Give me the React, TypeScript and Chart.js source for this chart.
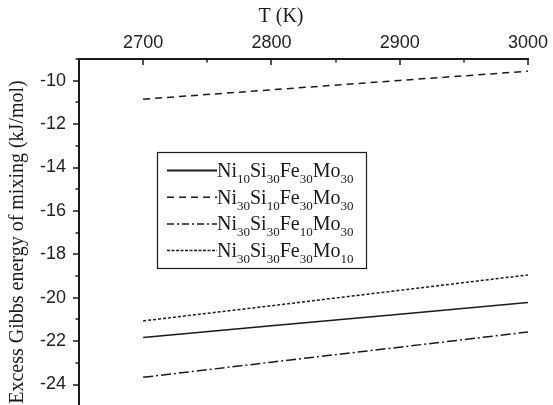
import React, { useEffect, useRef } from 'react';
import { Chart, registerables } from 'chart.js';

Chart.register(...registerables);

// ---- data ----
const temps = [2700, 2800, 2900, 3000];
const seriesLabels = [
  'Ni10Si30Fe30Mo30',
  'Ni30Si10Fe30Mo30',
  'Ni30Si30Fe10Mo30',
  'Ni30Si30Fe30Mo10',
];
const ni10Values = [-21.83, -21.29, -20.76, -20.22];
const si10Values = [-10.85, -10.42, -9.99, -9.56];
const fe10Values = [-23.67, -22.97, -22.28, -21.58];
const mo10Values = [-21.07, -20.37, -19.66, -18.95];
const xTickValues = [2700, 2800, 2900, 3000];
const xMinorTickValues = [2650, 2750, 2850, 2950];
const yTickValues = [-24, -22, -20, -18, -16, -14, -12, -10];
const yMinorTickValues = [-25, -23, -21, -19, -17, -15, -13, -11, -9];
const xTitle = 'T (K)';
const yTitle = 'Excess Gibbs energy of mixing (kJ/mol)';

const seriesValues = [ni10Values, si10Values, fe10Values, mo10Values];
const dashes = [[], [7, 5], [10, 3, 2, 3], [3, 2]];
const legendDashes = [[], [7, 5], [7, 3, 2, 3], [3, 1.5]];

const SERIF = '"Liberation Serif", "Times New Roman", serif';
const SANS = '"Liberation Sans", Arial, sans-serif';
const INK = '#1a1a1a';

function drawFormula(ctx: CanvasRenderingContext2D, text: string, x: number, y: number) {
  const re = /([A-Z][a-z]?)(\d+)/g;
  let m: RegExpExecArray | null;
  let cx = x;
  ctx.textAlign = 'left';
  ctx.textBaseline = 'alphabetic';
  while ((m = re.exec(text))) {
    ctx.font = `20px ${SERIF}`;
    ctx.fillText(m[1], cx, y);
    cx += ctx.measureText(m[1]).width;
    ctx.font = `13px ${SERIF}`;
    ctx.fillText(m[2], cx, y + 6);
    cx += ctx.measureText(m[2]).width;
  }
}

const decorPlugin = {
  id: 'decor',
  afterDraw(chart: any) {
    const ctx: CanvasRenderingContext2D = chart.ctx;
    const { left, right, top, bottom } = chart.chartArea;
    const xs = chart.scales.x;
    const ys = chart.scales.y;
    ctx.save();
    ctx.strokeStyle = INK;
    ctx.fillStyle = INK;
    ctx.setLineDash([]);
    // axis lines
    ctx.lineWidth = 2;
    ctx.beginPath();
    ctx.moveTo(left, bottom);
    ctx.lineTo(left, top);
    ctx.lineTo(right + 1, top);
    ctx.stroke();
    // ticks
    ctx.lineWidth = 1.5;
    ctx.beginPath();
    xTickValues.forEach((v) => {
      const px = Math.round(xs.getPixelForValue(v));
      ctx.moveTo(px, top);
      ctx.lineTo(px, top + 6);
    });
    xMinorTickValues.forEach((v) => {
      const px = Math.round(xs.getPixelForValue(v));
      ctx.moveTo(px, top);
      ctx.lineTo(px, top + 3.5);
    });
    yTickValues.forEach((v) => {
      const py = Math.round(ys.getPixelForValue(v));
      ctx.moveTo(left, py);
      ctx.lineTo(left - 6, py);
    });
    yMinorTickValues.forEach((v) => {
      const py = Math.round(ys.getPixelForValue(v));
      ctx.moveTo(left, py);
      ctx.lineTo(left - 3.5, py);
    });
    ctx.stroke();

    // titles
    ctx.font = `20px ${SERIF}`;
    ctx.textAlign = 'center';
    ctx.textBaseline = 'middle';
    ctx.fillText(xTitle, 281, 17);
    ctx.save();
    ctx.translate(18, 242);
    ctx.rotate(-Math.PI / 2);
    ctx.fillText(yTitle, 0, 0);
    ctx.restore();

    // legend
    const bx = 157.5, by = 152.5, bw = 209, bh = 116;
    ctx.lineWidth = 1.2;
    ctx.strokeRect(bx, by, bw, bh);
    chart.data.datasets.forEach((ds: any, i: number) => {
      const base = 177 + i * 26.7;
      const ly = base - 6.5;
      ctx.save();
      ctx.lineWidth = i === 0 ? 2 : 1.5;
      ctx.setLineDash(legendDashes[i]);
      ctx.beginPath();
      ctx.moveTo(167, ly);
      ctx.lineTo(217, ly);
      ctx.stroke();
      ctx.restore();
      drawFormula(ctx, ds.label, 217, base);
    });
    ctx.restore();
  },
};

export default function App() {
  const ref = useRef<HTMLCanvasElement>(null);
  useEffect(() => {
    const chart = new Chart(ref.current as HTMLCanvasElement, {
      type: 'line',
      data: {
        datasets: seriesLabels.map((label, i) => ({
          label,
          data: temps.map((t, j) => ({ x: t, y: seriesValues[i][j] })),
          borderColor: INK,
          borderWidth: 1.5,
          borderDash: dashes[i],
          pointRadius: 0,
          fill: false,
          tension: 0,
        })),
      },
      options: {
        responsive: false,
        animation: false,
        layout: { padding: { left: 0, right: 24, top: 0, bottom: 6 } },
        plugins: { legend: { display: false }, tooltip: { enabled: false } },
        scales: {
          x: {
            type: 'linear',
            position: 'top',
            min: 2650,
            max: 3000,
            afterBuildTicks: (s: any) => {
              s.ticks = xTickValues.map((v) => ({ value: v }));
            },
            afterFit: (s: any) => {
              s.height = 59;
            },
            grid: { display: false, drawTicks: false },
            border: { display: false },
            ticks: {
              autoSkip: false,
              maxRotation: 0,
              padding: 5,
              color: '#222',
              font: { family: SANS, size: 18 },
              callback: (v: any) => String(v),
            },
          },
          y: {
            type: 'linear',
            min: -25,
            max: -9,
            afterBuildTicks: (s: any) => {
              s.ticks = yTickValues.map((v) => ({ value: v }));
            },
            afterFit: (s: any) => {
              s.width = 79;
            },
            grid: { display: false, drawTicks: false },
            border: { display: false },
            ticks: {
              autoSkip: false,
              padding: 13,
              color: '#222',
              font: { family: SANS, size: 18 },
              callback: (v: any) => String(v),
            },
          },
        },
      },
      plugins: [decorPlugin],
    });
    return () => chart.destroy();
  }, []);

  return (
    <div style={{ width: 553, height: 405, overflow: 'hidden', position: 'relative', background: '#fff' }}>
      <style>{'html,body{margin:0;padding:0;overflow:hidden;background:#fff}'}</style>
      <canvas ref={ref} width={553} height={430} style={{ display: 'block', width: 553, height: 430 }} />
    </div>
  );
}
